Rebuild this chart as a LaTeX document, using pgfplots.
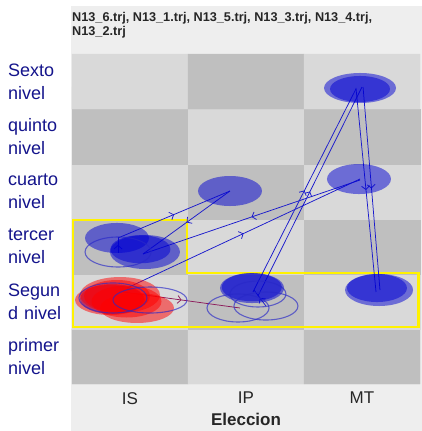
\documentclass[border=0pt]{standalone}
\usepackage{pgfplots}
\pgfplotsset{compat=1.18}
\usepackage{fontspec}
\setmainfont{Liberation Sans}
\usetikzlibrary{decorations.markings,arrows.meta}

\definecolor{panel}{RGB}{238,238,238}
\definecolor{labelblue}{RGB}{20,20,140}
\definecolor{fillblue}{RGB}{0,0,210}
\definecolor{lineblue}{RGB}{26,26,204}
\definecolor{ringblue}{RGB}{40,40,200}
\definecolor{maroon}{RGB}{140,26,90}

\pgfplotsset{
  fe/.style n args={3}{only marks, mark=*, mark size=#2,
    mark options={xscale=#1/#2, fill=#3, fill opacity=0.5, draw opacity=0}, forget plot},
  oe/.style 2 args={only marks, mark=o, mark size=#2,
    mark options={xscale=#1/#2, draw=ringblue, draw opacity=0.65, line width=1.1pt}, forget plot},
  ln/.style={draw=#1, line width=0.75pt, no markers, forget plot,
    postaction={decorate},
    decoration={markings, mark=at position 0.5 with {\arrow{Straight Barb[length=3.5pt,width=8pt]}}}},
  ln/.default=lineblue,
}

\begin{document}
\begin{tikzpicture}
\fill[white] (-72pt,-47pt) rectangle (350pt,384pt);
\fill[panel] (-1pt,-47pt) rectangle (350pt,378pt);
\begin{axis}[
    scale only axis,
    width=348pt, height=330pt,
    xmin=0, xmax=3, ymin=0, ymax=6,
    clip=false,
    axis line style={draw=none},
    major tick length=0pt,
    xtick={0.5,1.5,2.5},
    xticklabels={IS,IP,MT},
    ytick={0.5,1.5,2.5,3.5,4.5,5.5},
    yticklabels={{primer\\nivel},{Segun\\d nivel},{tercer\\nivel},{cuarto\\nivel},{quinto\\nivel},{Sexto\\nivel}},
    xticklabel style={inner sep=0pt, yshift=-8pt, text=black!85, font=\fontsize{17}{20}\selectfont},
    yticklabel style={anchor=west, align=left, text width=62pt, inner sep=0pt, xshift=-64pt,
      text=labelblue, font=\fontsize{18}{23}\selectfont},
    xlabel={Eleccion},
    xlabel style={at={(axis description cs:0.5,0)}, anchor=north, inner sep=0pt, yshift=-29pt,
      font=\fontsize{17}{20}\selectfont\bfseries, text=black!85},
    title={N13\_6.trj, N13\_1.trj, N13\_5.trj, N13\_3.trj, N13\_4.trj,\\N13\_2.trj},
    title style={at={(axis description cs:0,1)}, anchor=north west, align=left, inner sep=0pt,
      yshift=36pt, font=\fontsize{12.7}{14.2}\selectfont\bfseries, text=black!85},
    colormap={cb}{rgb255=(217,217,217) rgb255=(191,191,191)},
    point meta min=0, point meta max=1,
]

% checkerboard: 0 = light, 1 = dark
\addplot[matrix plot*, point meta=explicit, mesh/cols=3, mesh/rows=6, forget plot] coordinates {
  (0.5,0.5) [1] (1.5,0.5) [0] (2.5,0.5) [1]
  (0.5,1.5) [0] (1.5,1.5) [1] (2.5,1.5) [0]
  (0.5,2.5) [1] (1.5,2.5) [0] (2.5,2.5) [1]
  (0.5,3.5) [0] (1.5,3.5) [1] (2.5,3.5) [0]
  (0.5,4.5) [1] (1.5,4.5) [0] (2.5,4.5) [1]
  (0.5,5.5) [0] (1.5,5.5) [1] (2.5,5.5) [0]
};

% highlighted region
\addplot[draw=yellow, line width=2.5pt, line join=miter, no markers, forget plot] coordinates {
  (0.01,1.035) (0.01,2.98) (0.99,2.98) (0.99,2.02) (2.985,2.02) (2.985,1.035)
} --cycle;

% filled ellipses
\addplot[fe={36}{15}{fillblue}] coordinates {(2.483,5.382)};
\addplot[fe={30}{13}{fillblue}] coordinates {(2.483,5.364)};
\addplot[fe={32}{15}{fillblue}] coordinates {(2.474,3.727)};
\addplot[fe={32}{15}{fillblue}] coordinates {(1.362,3.509)};
\addplot[fe={34}{16}{fillblue}] coordinates {(2.647,1.709)};
\addplot[fe={30}{14}{fillblue}] coordinates {(2.629,1.745)};
\addplot[fe={32}{15}{fillblue}] coordinates {(1.552,1.745)};
\addplot[fe={30}{14}{fillblue}] coordinates {(1.550,1.760)};
\addplot[fe={32}{15}{fillblue}] coordinates {(0.388,2.655)};
\addplot[fe={35}{17}{fillblue}] coordinates {(0.629,2.400)};
\addplot[fe={30}{14}{fillblue}] coordinates {(0.590,2.450)};
\addplot[fe={32}{15}{fillblue}] coordinates {(0.345,1.545)};
\addplot[fe={40}{18}{red}] coordinates {(0.414,1.618)};
\addplot[fe={37}{15}{red}] coordinates {(0.560,1.382)};
\addplot[fe={33}{16}{red}] coordinates {(0.388,1.600)};
\addplot[fe={35}{15}{red}] coordinates {(0.328,1.527)};
\addplot[fe={35}{16}{red}] coordinates {(0.470,1.500)};

% open ellipses
\addplot[oe={33}{15}] coordinates {(0.397,2.400)};
\addplot[oe={37}{13}] coordinates {(0.672,1.527)};
\addplot[oe={34}{15}] coordinates {(0.353,1.564)};
\addplot[oe={31}{14}] coordinates {(1.431,1.382)};
\addplot[oe={32}{14}] coordinates {(1.672,1.418)};
\addplot[oe={28}{13}] coordinates {(1.603,1.636)};

% transitions
\addplot[ln] coordinates {(0.397,2.655) (1.362,3.509)};
\addplot[ln] coordinates {(1.362,3.509) (0.612,2.364)};
\addplot[ln] coordinates {(2.483,3.709) (0.612,2.364)};
\addplot[ln] coordinates {(0.474,1.745) (2.483,3.727)};
\addplot[ln] coordinates {(1.560,1.673) (2.448,5.364)};
\addplot[ln] coordinates {(1.603,1.600) (2.500,5.400)};
\addplot[ln] coordinates {(2.448,5.382) (2.621,1.673)};
\addplot[ln] coordinates {(2.509,5.400) (2.655,1.709)};
\addplot[ln] coordinates {(1.672,1.418) (1.569,1.709)};
\addplot[ln] coordinates {(0.397,2.382) (0.397,2.673)};
\addplot[ln=maroon] coordinates {(0.440,1.673) (1.448,1.382)};

\end{axis}
\end{tikzpicture}
\end{document}
